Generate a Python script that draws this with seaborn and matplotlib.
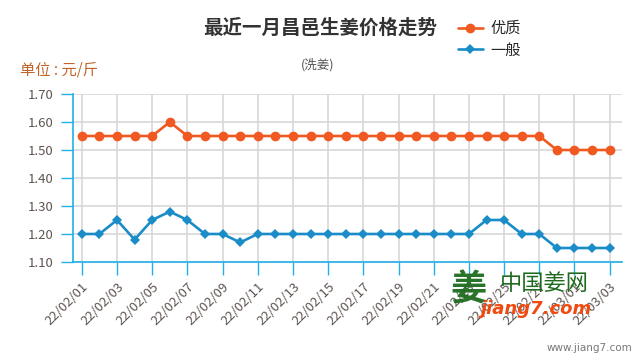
import pandas as pd
import matplotlib.pyplot as plt
import seaborn as sns

dates = pd.date_range('2022-02-01', '2022-03-03').strftime('%y/%m/%d').tolist()
premium = [1.55, 1.55, 1.55, 1.55, 1.55, 1.60, 1.55, 1.55, 1.55, 1.55,
           1.55, 1.55, 1.55, 1.55, 1.55, 1.55, 1.55, 1.55, 1.55, 1.55,
           1.55, 1.55, 1.55, 1.55, 1.55, 1.55, 1.55, 1.50, 1.50, 1.50, 1.50]
normal = [1.20, 1.20, 1.25, 1.18, 1.25, 1.28, 1.25, 1.20, 1.20, 1.17,
          1.20, 1.20, 1.20, 1.20, 1.20, 1.20, 1.20, 1.20, 1.20, 1.20,
          1.20, 1.20, 1.20, 1.25, 1.25, 1.20, 1.20, 1.15, 1.15, 1.15, 1.15]
grades = ['优质', '一般']
colors = {'优质': '#f05a22', '一般': '#1a8cc8'}
yticks = [1.1, 1.2, 1.3, 1.4, 1.5, 1.6, 1.7]

df = pd.DataFrame({
    'day': list(range(len(dates))) * 2,
    'price': premium + normal,
    'grade': [grades[0]] * len(dates) + [grades[1]] * len(dates),
})

sns.set_style('white')
plt.rcParams['font.family'] = ['Noto Sans CJK SC', 'DejaVu Sans']

fig = plt.figure(figsize=(6.4, 3.6), dpi=100)
ax = fig.add_axes([73 / 640, 1 - 262 / 360, 549 / 640, 168 / 360])

sns.lineplot(data=df, x='day', y='price', hue='grade', style='grade',
             markers={'优质': 'o', '一般': 'D'}, dashes=False, palette=colors,
             linewidth=1.9, markersize=7, markeredgewidth=0, ax=ax)
for ln in ax.lines:
    if ln.get_marker() == 'D':
        ln.set_markersize(5.5)

axis_blue = '#22aee6'
label_col = '#5e5450'
ax.set_xlim(-0.5, 30.7)
ax.set_ylim(1.10, 1.70)
ax.set_yticks(yticks)
ax.set_yticklabels([f'{v:.2f}' for v in yticks], color=label_col, fontsize=9.5)
ax.set_xticks(range(0, len(dates), 2))
ax.set_xticklabels(dates[::2], rotation=45, ha='right', rotation_mode='anchor',
                   color=label_col, fontsize=9.5)
ax.tick_params(axis='both', length=9, width=1, color=axis_blue, direction='out',
               bottom=True, left=True)
ax.tick_params(axis='x', pad=4)
ax.tick_params(axis='y', pad=5)
ax.grid(True, color='#d8d8d8', linewidth=1.2)
ax.set_axisbelow(True)
for s in ['top', 'right']:
    ax.spines[s].set_visible(False)
for s in ['left', 'bottom']:
    ax.spines[s].set_color(axis_blue)
    ax.spines[s].set_linewidth(1.2)
ax.set_xlabel('')
ax.set_ylabel('')

handles, labels = ax.get_legend_handles_labels()
ax.legend(handles, labels, loc='upper left', bbox_to_anchor=(452 / 640, 1 - 14 / 360),
          bbox_transform=fig.transFigure, frameon=False, fontsize=11,
          handlelength=1.6, handletextpad=0.5, labelspacing=0.3, borderaxespad=0)

fig.text(0.5, 1 - 28 / 360, '最近一月昌邑生姜价格走势', ha='center', va='center',
         fontsize=14, fontweight='bold', color='#333333')
fig.text(318 / 640, 1 - 65 / 360, '(洗姜)', ha='center', va='center',
         fontsize=9, color='#555555')
fig.text(20 / 640, 1 - 70 / 360, '单位 : 元/斤', ha='left', va='center',
         fontsize=11, color='#c0642a')

# site watermark
fig.text(468 / 640, 1 - 290 / 360, '姜', ha='center', va='center',
         fontsize=26, fontweight='bold', color='#1e6b1e', alpha=0.95)
fig.text(544 / 640, 1 - 284 / 360, '中国姜网', ha='center', va='center',
         fontsize=16, color='#1e6b1e')
fig.text(536 / 640, 1 - 309 / 360, 'jiang7.com', ha='center', va='center',
         fontsize=13, fontweight='bold', fontstyle='italic', color='#f04a10',
         family='DejaVu Sans')
fig.text(632 / 640, 1 - 348 / 360, 'www.jiang7.com', ha='right', va='center',
         fontsize=7.5, color='#777777', family='DejaVu Sans')

fig.savefig('out.png', dpi=100)
